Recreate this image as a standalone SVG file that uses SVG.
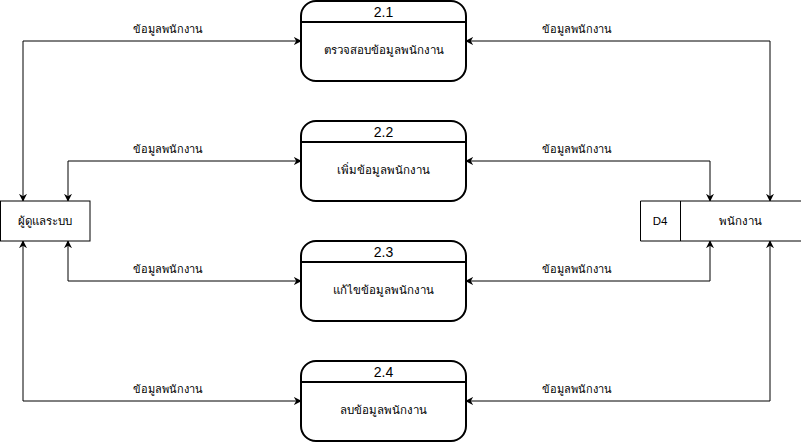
<svg xmlns="http://www.w3.org/2000/svg" width="801" height="442" viewBox="0 0 801 442">
<defs>
<style>
.proc{fill:#fff;stroke:#000;stroke-width:2}
.hdr{stroke:#000;stroke-width:2}
.box{fill:#fff;stroke:#000;stroke-width:1}
.t{font-family:"Liberation Sans","Noto Sans","DejaVu Sans",sans-serif;font-size:11.5px;fill:#000;text-anchor:middle;dominant-baseline:central}
.num{font-size:14px}
.lbl{font-family:"Liberation Sans","Noto Sans","DejaVu Sans",sans-serif;font-size:11px;fill:#000;text-anchor:middle;dominant-baseline:central}
.edge{fill:none;stroke:#000;stroke-width:1;marker-start:url(#arr);marker-end:url(#arr)}
</style>
<marker id="arr" viewBox="0 0 10 10" refX="9" refY="5" markerWidth="8" markerHeight="8" orient="auto-start-reverse" markerUnits="userSpaceOnUse">
<path d="M0,0 L10,5 L0,10 L3,5 Z" fill="#000"/>
</marker>
</defs>
<rect width="801" height="442" fill="#fff"/>

<g id="connectors">
<path class="edge" d="M23,201 V41 H301"/>
<path class="edge" d="M68,201 V161 H301"/>
<path class="edge" d="M68,241 V281 H301"/>
<path class="edge" d="M23,241 V401 H301"/>
<path class="edge" d="M770,201 V41 H466"/>
<path class="edge" d="M710,201 V161 H466"/>
<path class="edge" d="M710,241 V281 H466"/>
<path class="edge" d="M770,241 V401 H466"/>
<text class="lbl" x="168" y="29">ข้อมูลพนักงาน</text>
<text class="lbl" x="168" y="149">ข้อมูลพนักงาน</text>
<text class="lbl" x="168" y="269">ข้อมูลพนักงาน</text>
<text class="lbl" x="168" y="389">ข้อมูลพนักงาน</text>
<text class="lbl" x="577" y="29">ข้อมูลพนักงาน</text>
<text class="lbl" x="577" y="149">ข้อมูลพนักงาน</text>
<text class="lbl" x="577" y="269">ข้อมูลพนักงาน</text>
<text class="lbl" x="577" y="389">ข้อมูลพนักงาน</text>
</g>

<g id="p21">
<rect class="proc" x="301" y="1" width="165" height="80" rx="15" ry="15"/>
<line class="hdr" x1="301" y1="22" x2="466" y2="22"/>
<text class="t num" x="383.5" y="12">2.1</text>
<text class="t" x="383.5" y="50">ตรวจสอบข้อมูลพนักงาน</text>
</g>
<g id="p22">
<rect class="proc" x="301" y="121" width="165" height="80" rx="15" ry="15"/>
<line class="hdr" x1="301" y1="142" x2="466" y2="142"/>
<text class="t num" x="383.5" y="132">2.2</text>
<text class="t" x="383.5" y="170">เพิ่มข้อมูลพนักงาน</text>
</g>
<g id="p23">
<rect class="proc" x="301" y="241" width="165" height="80" rx="15" ry="15"/>
<line class="hdr" x1="301" y1="262" x2="466" y2="262"/>
<text class="t num" x="383.5" y="252">2.3</text>
<text class="t" x="383.5" y="290">แก้ไขข้อมูลพนักงาน</text>
</g>
<g id="p24">
<rect class="proc" x="301" y="361" width="165" height="80" rx="15" ry="15"/>
<line class="hdr" x1="301" y1="382" x2="466" y2="382"/>
<text class="t num" x="383.5" y="372">2.4</text>
<text class="t" x="383.5" y="410">ลบข้อมูลพนักงาน</text>
</g>

<g id="admin">
<rect class="box" x="0.5" y="201" width="89.5" height="40"/>
<text class="t" x="45" y="221">ผู้ดูแลระบบ</text>
</g>

<g id="d4">
<path class="box" d="M801,201 H640.5 V241 H801"/>
<line class="box" x1="680.5" y1="201" x2="680.5" y2="241"/>
<text class="t" x="660" y="221">D4</text>
<text class="t" x="740" y="221">พนักงาน</text>
</g>
</svg>
